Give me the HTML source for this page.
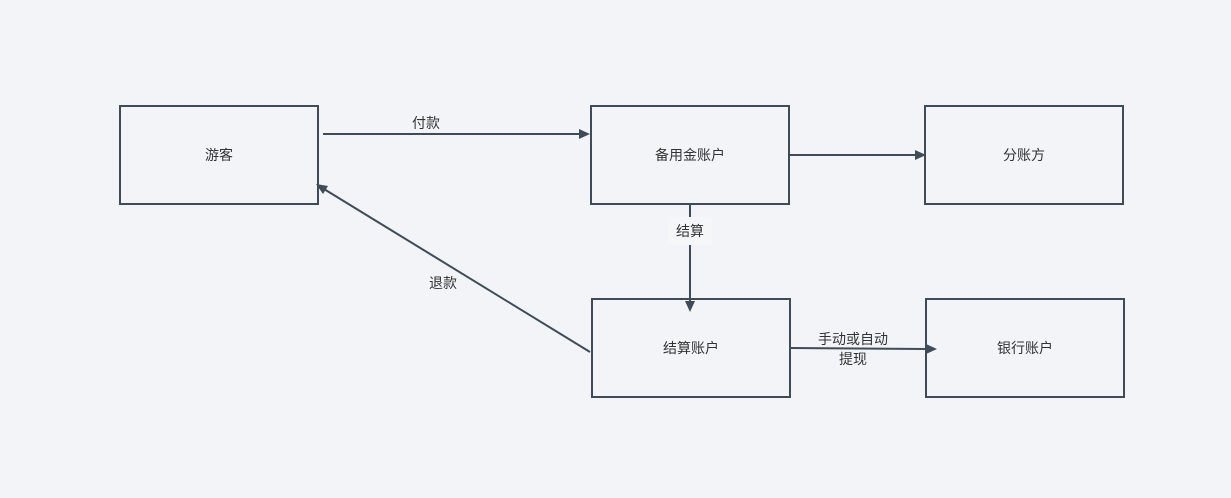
<!DOCTYPE html>
<html><head><meta charset="utf-8"><style>
body{margin:0;background:#f2f4f7;}
svg{display:block;}
text{font-family:"Liberation Sans","Noto Sans CJK SC",sans-serif;font-size:14px;fill:#333;}
</style></head><body>
<svg width="1231" height="498" xmlns="http://www.w3.org/2000/svg">
<rect width="1231" height="498" fill="#f2f4f7"/>
<g fill="none" stroke="#3f4b56" stroke-width="2">
<rect x="120" y="106" width="198" height="98"/>
<rect x="591" y="106" width="198" height="98"/>
<rect x="925" y="106" width="198" height="98"/>
<rect x="592" y="299" width="198" height="98"/>
<rect x="926" y="299" width="198" height="98"/>
<line x1="323" y1="134" x2="582" y2="134"/>
<line x1="790" y1="155" x2="917" y2="155"/>
<line x1="690" y1="205" x2="690" y2="303"/>
<line x1="791" y1="348" x2="928" y2="349"/>
<line x1="590" y1="352" x2="324" y2="189"/>
</g>
<g fill="#3f4b56">
<polygon points="590,134 579,129 579,139"/>
<polygon points="926,155 915,150 915,160"/>
<polygon points="690,312 685,301 695,301"/>
<polygon points="937,349 926,344 926,354"/>
<polygon points="316,184 328,186 323,194"/>
</g>
<rect x="668" y="217" width="44" height="28" fill="#f5f6f8"/>
<g text-anchor="middle">
<text x="219" y="160">游客</text>
<text x="690" y="160">备用金账户</text>
<text x="1024" y="160">分账方</text>
<text x="691" y="353">结算账户</text>
<text x="1025" y="353">银行账户</text>
<text x="426" y="128">付款</text>
<text x="690" y="236">结算</text>
<text x="443" y="288">退款</text>
<text x="853" y="344">手动或自动</text>
<text x="853" y="364">提现</text>
</g>
</svg>
</body></html>
